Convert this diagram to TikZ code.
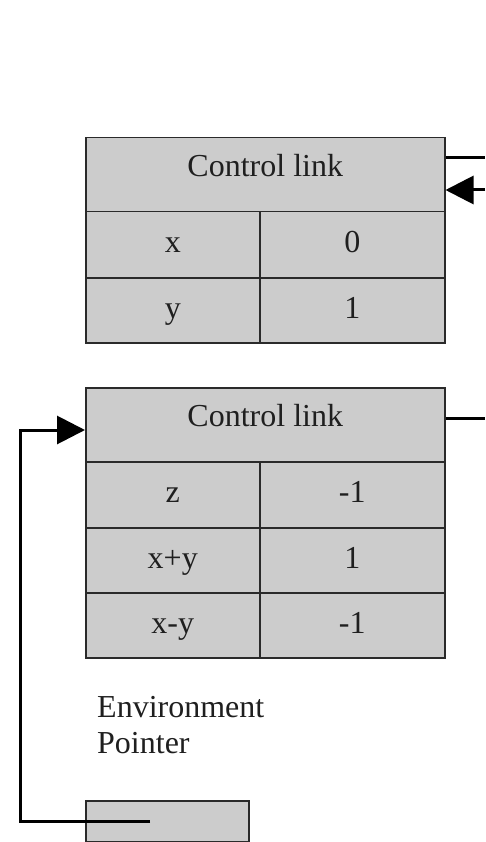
\documentclass[tikz,border=0pt]{standalone}
\usepackage{fontspec}
\setmainfont{Liberation Serif}
\usetikzlibrary{arrows.meta,calc}
\definecolor{cellgray}{HTML}{CCCCCC}
\definecolor{edgegray}{HTML}{2A2A2A}
\tikzset{
  cell/.style={draw=edgegray, fill=cellgray, line width=1.5pt, inner sep=0pt, anchor=north west,
    text=black!88, font=\fontsize{32}{36}\selectfont, text height=24pt, text depth=8pt},
  headcell/.style={cell, text height=20pt, text depth=16pt},
  label/.style={anchor=base west, inner sep=0pt, text=black!88, font=\fontsize{32}{36}\selectfont},
  link/.style={line width=3pt, line join=miter, draw=black},
  linkarrow/.style={link, -{Triangle[length=28pt,width=28pt]}},
}
\begin{document}
\begin{tikzpicture}[x=1pt,y=-1pt]
\useasboundingbox (0,0) rectangle (485,842);
% frame 1
\node[headcell, minimum width=359pt, minimum height=74pt] (cl1) at (85,137) {Control link};
\node[cell, minimum width=174pt, minimum height=66pt] (x1) at (85,211) {x};
\node[cell, minimum width=185pt, minimum height=66pt] (v1) at (259,211) {0};
\node[cell, minimum width=174pt, minimum height=65pt] (y1) at (85,277) {y};
\node[cell, minimum width=185pt, minimum height=65pt] (w1) at (259,277) {1};
% frame 2
\node[headcell, minimum width=359pt, minimum height=74pt] (cl2) at (85,387) {Control link};
\node[cell, minimum width=174pt, minimum height=66pt] (z2) at (85,461) {z};
\node[cell, minimum width=185pt, minimum height=66pt] (vz2) at (259,461) {-1};
\node[cell, minimum width=174pt, minimum height=65pt] (s2) at (85,527) {x+y};
\node[cell, minimum width=185pt, minimum height=65pt] (vs2) at (259,527) {1};
\node[cell, minimum width=174pt, minimum height=65pt] (d2) at (85,592) {x-y};
\node[cell, minimum width=185pt, minimum height=65pt] (vd2) at (259,592) {-1};
% environment pointer
\node[label] (envlabel) at (97,717) {Environment};
\node[label] (envlabel2) at (97,753) {Pointer};
\node[cell, minimum width=163pt, minimum height=41pt] (ep) at (85,800) {};
% connectors
\coordinate (r1) at (485,158);
\coordinate (r2) at (485,190);
\coordinate (r3) at (485,418);
\draw[link] (cl1.east |- r1) -- (r1);
\draw[linkarrow] (r2) -- (cl1.east |- r2);
\draw[link] (cl2.east |- r3) -- (r3);
\coordinate (epend) at (150,821);
\coordinate (l1) at (20,821);
\coordinate (l2) at (20,430);
\draw[linkarrow] (epend) -- (l1) -- (l2) -- (cl2.west |- l2);
\end{tikzpicture}
\end{document}
